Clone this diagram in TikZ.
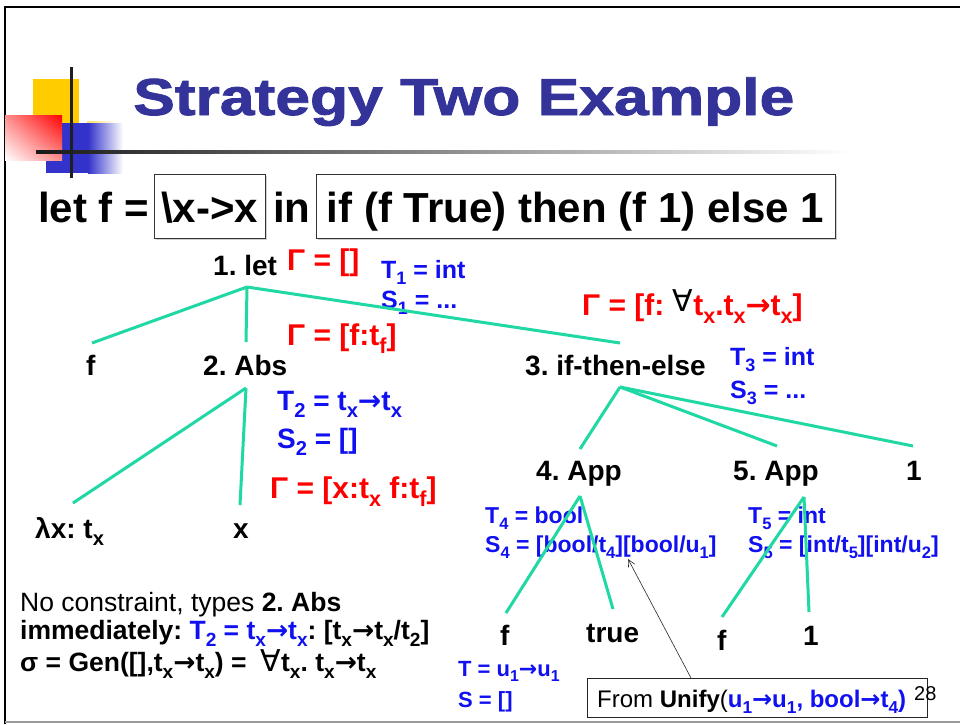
\documentclass[tikz,border=0pt]{standalone}
\usepackage{fontspec}
\setmainfont{Liberation Sans}
\newfontfamily\symf{DejaVu Sans}
\newfontfamily\titlefont[BoldFeatures={FakeBold=1.5}]{Liberation Sans}
\usetikzlibrary{arrows.meta,shadows,shadings}
\definecolor{titleblue}{RGB}{51,51,153}
\definecolor{tred}{RGB}{255,0,0}
\definecolor{tblue}{RGB}{16,16,240}
\definecolor{teal2}{RGB}{32,216,164}
\definecolor{decoblue}{RGB}{51,51,204}
\definecolor{decoyellow}{RGB}{255,204,0}
\newcommand\fs[1]{\fontsize{#1}{#1}\selectfont}
\newcommand\myarr{{\symf\bfseries →}}
\newcommand\fa{{\symf\mdseries ∀}}
\newcommand\sbx[1]{\raisebox{-0.27em}{\scalebox{0.72}{#1}}}
\frenchspacing
\tikzset{
  basew/.style={anchor=base west, inner sep=0pt},
  tnode/.style={basew, font=\bfseries\fs{28}},
  redlbl/.style={basew, text=tred, font=\bfseries\fs{30}},
  bluelbl/.style={basew, text=tblue, font=\bfseries\fs{#1}},
  edge/.style={draw=teal2, line width=3pt},
  codebox/.style={draw=black!80, line width=0.8pt, fill=white, anchor=base,
    inner xsep=0pt, inner ysep=0pt, text height=48pt, text depth=16pt,
    font=\bfseries\fs{42},
    drop shadow={shadow xshift=1.5pt, shadow yshift=-1.5pt, fill=black!30, opacity=0.6}},
}
\begin{document}
\frenchspacing
\begin{tikzpicture}[x=1pt,y=-1pt]
\useasboundingbox (0,0) rectangle (960,724);
\fill[white] (0,0) rectangle (960,724);
% slide frame
\draw[black, line width=2.5pt] (5,724) -- (5,7) -- (960,7);
\draw[black!40, line width=2pt] (5,722) -- (960,722);
% decoration
\fill[decoyellow] (33,79) rectangle (79,124);
\shade[left color=decoyellow!60, right color=white] (87,121) rectangle (117,125);
\fill[decoblue] (46,123) rectangle (88,173);
\shade[left color=decoblue, right color=white] (88,123) rectangle (123,173);
\shade[upper right=red, upper left=red!45, lower right=red!45, lower left=white] (5,115) rectangle (62,160);
\shade[left color=black!90, middle color=black!50, right color=white] (36,150.5) rectangle (850,153.5);
\draw[black!88, line width=3pt] (71,67) -- (71,178);
% title
\node[basew, text=titleblue, font=\titlefont\bfseries\fs{52}] (title) at (133,115) {\scalebox{1.2}[1]{Strategy Two Example}};
% let line
\node[basew, font=\bfseries\fs{42}] (letkw) at (38,222) {let f =};
\node[codebox, minimum width=111pt] (lam) at (209.5,222) {\textbackslash x->x};
\node[basew, font=\bfseries\fs{42}] (inkw) at (273,222) {in};
\node[codebox, minimum width=519pt] (body) at (575.5,222) {if (f True) then (f 1) else 1};
% tree nodes
\node[tnode] (n1) at (213,275) {1. let};
\node[tnode] (nf) at (86,375) {f};
\node[tnode] (n2) at (203,375) {2. Abs};
\node[tnode] (n3) at (525,375) {3. if-then-else};
\node[tnode] (nlam) at (35,538) {λx: t\sbx{x}};
\node[tnode] (nx) at (233,538) {x};
\node[tnode] (n4) at (536,480) {4. App};
\node[tnode] (n5) at (733,480) {5. App};
\node[tnode] (none) at (906,480) {1};
\node[tnode] (nf4) at (500,645) {f};
\node[tnode] (ntrue) at (586,642) {true};
\node[tnode] (nf5) at (717,650) {f};
\node[tnode] (n1c) at (803,645) {1};
% gamma labels
\node[redlbl] (g1) at (287,270) {Γ = []};
\node[redlbl] (g2) at (287,345) {Γ = [f:t\sbx{f}]};
\node[redlbl] (g3) at (582,315) {Γ = [f: \raisebox{4pt}{\textcolor{black}{\fa}}t\sbx{x}.t\sbx{x}\myarr t\sbx{x}]};
\node[redlbl] (g4) at (270,498) {Γ = [x:t\sbx{x} f:t\sbx{f}]};
% type labels
\node[bluelbl=25] (t1) at (381,278) {T\sbx{1} = int};
\node[bluelbl=25] (s1) at (381,308) {S\sbx{1} = ...};
\node[bluelbl=28] (t2) at (277,410) {T\sbx{2} = t\sbx{x}\myarr t\sbx{x}};
\node[bluelbl=28] (s2) at (277,448) {S\sbx{2} = []};
\node[bluelbl=25] (t3) at (730,365) {T\sbx{3} = int};
\node[bluelbl=25] (s3) at (730,398) {S\sbx{3} = ...};
\node[bluelbl=23] (t4) at (485,523) {T\sbx{4} = bool};
\node[bluelbl=23] (s4) at (485,552) {S\sbx{4} = [bool/t\sbx{4}][bool/u\sbx{1}]};
\node[bluelbl=23] (t5) at (748,523) {T\sbx{5} = int};
\node[bluelbl=23] (s5) at (748,552) {S\sbx{5} = [int/t\sbx{5}][int/u\sbx{2}]};
\node[bluelbl=22] (tf) at (458,676) {T = u\sbx{1}\myarr u\sbx{1}};
\node[bluelbl=22] (sf) at (458,707) {S = []};
% note text
\node[basew, font=\fs{26.5}] (note1) at (20,611) {No constraint, types \textbf{2. Abs}};
\node[basew, font=\bfseries\fs{26.5}] (note2) at (20,639) {immediately: \textcolor{tblue}{T\sbx{2} = t\sbx{x}\myarr t\sbx{x}}: [t\sbx{x}\myarr t\sbx{x}/t\sbx{2}]};
\node[basew, font=\bfseries\fs{26.5}] (note3) at (20,671) {σ = Gen([],t\sbx{x}\myarr t\sbx{x}) =\hspace{14pt}{\fs{30}\fa}t\sbx{x}. t\sbx{x}\myarr t\sbx{x}};
% callout
\node[draw=black!85, line width=0.8pt, minimum width=340pt, minimum height=39pt, inner sep=0pt] (callbox) at (757,697.5) {};
\node[basew, font=\fs{24}] (calltext) at (597,707) {From \textbf{Unify}(\textcolor{tblue}{\bfseries u\sbx{1}\myarr u\sbx{1}, bool\myarr t\sbx{4})}};
\node[basew, font=\fs{20}] (pgno) at (914,700) {28};
\coordinate (ctop) at (691,678);
\coordinate (s4tip) at (628,559);
\draw[black!85, line width=0.6pt, -{Straight Barb[length=7pt,width=7pt]}] (ctop) -- (s4tip);
% connectors
\coordinate (r1) at (247,287);
\coordinate (fN) at (92,343);
\coordinate (absN) at (246,342);
\coordinate (iteN) at (620,343);
\coordinate (absS) at (246,388);
\coordinate (lamN) at (73,503);
\coordinate (xN) at (240,505);
\coordinate (iteS) at (620,387);
\coordinate (app4N) at (580,449);
\coordinate (app5N) at (777,446);
\coordinate (oneN) at (913,446);
\coordinate (app4S) at (580,496);
\coordinate (f4N) at (506,613);
\coordinate (trueN) at (613,609);
\coordinate (app5S) at (804,497);
\coordinate (f5N) at (722,617);
\coordinate (one5N) at (809,612);
\draw[edge] (r1) -- (fN);
\draw[edge] (r1) -- (absN);
\draw[edge] (r1) -- (iteN);
\draw[edge] (absS) -- (lamN);
\draw[edge] (absS) -- (xN);
\draw[edge] (iteS) -- (app4N);
\draw[edge] (iteS) -- (app5N);
\draw[edge] (iteS) -- (oneN);
\draw[edge] (app4S) -- (f4N);
\draw[edge] (app4S) -- (trueN);
\draw[edge] (app5S) -- (f5N);
\draw[edge] (app5S) -- (one5N);
\end{tikzpicture}
\end{document}
